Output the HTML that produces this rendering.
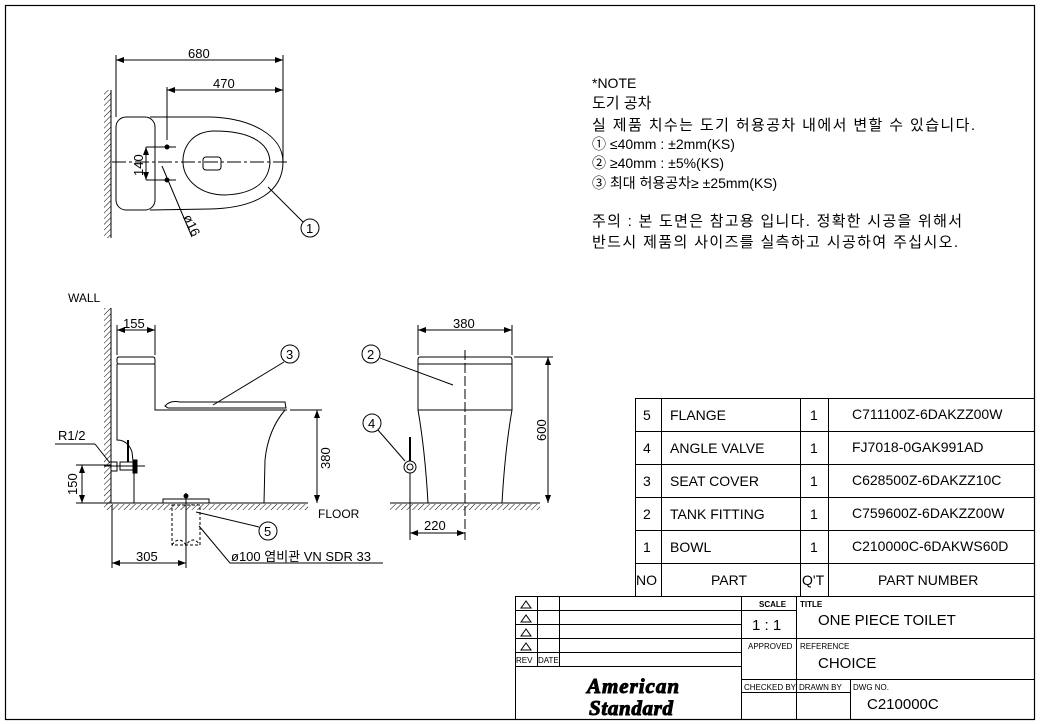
<!DOCTYPE html>
<html><head><meta charset="utf-8"><style>
html,body{margin:0;padding:0;background:#fff}
svg{display:block}
text{font-family:"Liberation Sans","Noto Sans CJK KR",sans-serif;fill:#000}
</style></head><body>
<svg width="1040" height="725" viewBox="0 0 1040 725" xmlns="http://www.w3.org/2000/svg">
<defs>
<pattern id="h" width="4" height="4" patternUnits="userSpaceOnUse" patternTransform="rotate(45)"><line x1="0" y1="0" x2="0" y2="4" stroke="#000" stroke-width="1"/></pattern>
<marker id="a" markerWidth="8" markerHeight="6" refX="8" refY="3" orient="auto-start-reverse" markerUnits="userSpaceOnUse"><path d="M0,0 L8,3 L0,6z" fill="#000"/></marker>
</defs>
<rect x="5.5" y="5.5" width="1029" height="714" fill="none" stroke="#000" stroke-width="1.2"/>
<g stroke="#000" fill="none" stroke-width="1">
<!-- TOP VIEW -->
<rect x="104" y="90" width="7" height="148" fill="url(#h)" stroke="none"/>
<line x1="111" y1="90" x2="111" y2="238"/>
<line x1="116" y1="55" x2="116" y2="117"/><line x1="283" y1="55" x2="283" y2="162"/>
<line x1="116" y1="60" x2="283" y2="60" marker-start="url(#a)" marker-end="url(#a)"/>
<line x1="167" y1="87" x2="167" y2="140"/>
<line x1="167" y1="90" x2="283" y2="90" marker-start="url(#a)" marker-end="url(#a)"/>
<rect x="116" y="117" width="39" height="93" rx="10"/>
<path d="M150,117 L210,117 C250,118 283,135 283,162 C283,192 255,208 210,209 L150,210"/>
<path d="M215,131 C190,131 182,150 183,163 C184,180 200,195 225,195 C250,194 268,185 270,163 C270,140 245,131 215,131z"/>
<rect x="203" y="157" width="18" height="13" rx="3"/>
<line x1="112" y1="162" x2="290" y2="162" stroke-dasharray="14,3,3,3"/>
<circle cx="167" cy="147" r="2" fill="#000"/><circle cx="167" cy="180" r="2" fill="#000"/>
<line x1="157" y1="147" x2="176" y2="147"/><line x1="157" y1="180" x2="176" y2="180"/>
<line x1="146" y1="147" x2="160" y2="147"/><line x1="146" y1="180" x2="160" y2="180"/>
<line x1="146" y1="147" x2="146" y2="180" marker-start="url(#a)" marker-end="url(#a)"/>
<line x1="162" y1="166" x2="192" y2="237"/>
<line x1="268" y1="187" x2="303" y2="222"/>
<circle cx="310" cy="228" r="9"/>
<!-- SIDE VIEW -->
<rect x="104" y="308" width="7" height="197" fill="url(#h)" stroke="none"/>
<line x1="111" y1="308" x2="111" y2="503"/>
<line x1="104" y1="503" x2="308" y2="503"/>
<rect x="104" y="504" width="204" height="6" fill="url(#h)" stroke="none"/>
<line x1="117" y1="325" x2="117" y2="355"/><line x1="155" y1="325" x2="155" y2="355"/>
<line x1="117" y1="330" x2="155" y2="330" marker-start="url(#a)" marker-end="url(#a)"/>
<path d="M119,357 L153,357 Q155,357 155,360 L155,363 Q155,364 153,364 L119,364 Q117,364 117,362 L117,359 Q117,357 119,357z"/>
<path d="M117,364 L117,440 Q128,440 132,452 L134,470 L134,503"/>
<path d="M155,364 L155,410 L287,410"/>
<path d="M165,406 Q170,400 180,402 L285,402 L286,408 L168,408z"/>
<path d="M285,410 Q268,430 265,460 L264,503"/>
<line x1="290" y1="410" x2="322" y2="410"/>
<line x1="317" y1="410" x2="317" y2="503" marker-start="url(#a)" marker-end="url(#a)"/>
<line x1="76" y1="465" x2="112" y2="465"/><line x1="76" y1="503" x2="104" y2="503"/>
<line x1="82" y1="465" x2="82" y2="503" marker-start="url(#a)" marker-end="url(#a)"/>
<rect x="111" y="462" width="6" height="9" fill="#fff"/>
<rect x="120" y="462" width="16" height="8"/>
<line x1="128" y1="440" x2="128" y2="462" stroke-width="2"/>
<line x1="104" y1="466" x2="145" y2="466"/>
<rect x="133" y="460" width="4" height="13" fill="#000"/>
<line x1="55" y1="444" x2="95" y2="444"/><line x1="95" y1="444" x2="110" y2="463"/>
<rect x="163" y="499" width="46" height="4"/>
<rect x="172" y="505" width="28" height="40" stroke-dasharray="3,2"/>
<path d="M172,545 Q179,535 186,545 Q193,535 200,545" stroke-dasharray="3,2"/>
<line x1="186" y1="493" x2="186" y2="568"/><circle cx="186" cy="496" r="2" fill="#000"/>
<line x1="112" y1="505" x2="112" y2="568"/>
<line x1="112" y1="563" x2="186" y2="563" marker-start="url(#a)" marker-end="url(#a)"/>
<line x1="196" y1="512" x2="259" y2="527"/>
<circle cx="268" cy="531" r="9"/>
<path d="M199,526 L230,563 L383,563"/>
<line x1="213" y1="405" x2="284" y2="362"/>
<circle cx="290" cy="354" r="9"/>
<!-- FRONT VIEW -->
<line x1="418" y1="325" x2="418" y2="355"/><line x1="512" y1="325" x2="512" y2="355"/>
<line x1="418" y1="330" x2="512" y2="330" marker-start="url(#a)" marker-end="url(#a)"/>
<path d="M420,357 L510,357 Q512,357 512,360 L512,410 L418,410 L418,360 Q418,357 420,357z"/>
<line x1="418" y1="364" x2="512" y2="364"/>
<path d="M418,410 Q425,450 428,503"/><path d="M512,410 Q505,450 502,503"/>
<line x1="465" y1="350" x2="465" y2="540" stroke-dasharray="10,3"/>
<line x1="390" y1="503" x2="540" y2="503"/>
<rect x="390" y="504" width="150" height="6" fill="url(#h)" stroke="none"/>
<line x1="514" y1="357" x2="553" y2="357"/>
<line x1="548" y1="357" x2="548" y2="503" marker-start="url(#a)" marker-end="url(#a)"/>
<circle cx="410" cy="467" r="6"/><circle cx="410" cy="467" r="3"/>
<line x1="410" y1="437" x2="410" y2="461" stroke-width="2"/>
<line x1="410" y1="473" x2="410" y2="540"/>
<line x1="410" y1="533" x2="465" y2="533" marker-start="url(#a)" marker-end="url(#a)"/>
<line x1="380" y1="358" x2="453" y2="385"/>
<circle cx="371" cy="354" r="9"/>
<line x1="378" y1="430" x2="405" y2="461"/>
<circle cx="372" cy="423" r="9"/>
<!-- PARTS TABLE -->
<rect x="635.5" y="398.5" width="399" height="198"/>
<line x1="635" y1="431.5" x2="1035" y2="431.5"/><line x1="635" y1="464.5" x2="1035" y2="464.5"/>
<line x1="635" y1="497.5" x2="1035" y2="497.5"/><line x1="635" y1="530.5" x2="1035" y2="530.5"/>
<line x1="635" y1="563.5" x2="1035" y2="563.5"/>
<line x1="661.5" y1="398" x2="661.5" y2="596"/><line x1="800.5" y1="398" x2="800.5" y2="596"/>
<line x1="828.5" y1="398" x2="828.5" y2="596"/>
<!-- TITLE BLOCK -->
<rect x="515.5" y="596.5" width="519" height="123"/>
<line x1="515" y1="610.5" x2="741" y2="610.5"/><line x1="515" y1="624.5" x2="741" y2="624.5"/>
<line x1="515" y1="638.5" x2="1035" y2="638.5"/><line x1="515" y1="652.5" x2="741" y2="652.5"/>
<line x1="515" y1="666.5" x2="741" y2="666.5"/>
<line x1="741" y1="610.5" x2="796" y2="610.5"/>
<line x1="741" y1="679.5" x2="1035" y2="679.5"/><line x1="741" y1="692.5" x2="850" y2="692.5"/>
<line x1="537.5" y1="596" x2="537.5" y2="666"/><line x1="559.5" y1="596" x2="559.5" y2="666"/>
<line x1="741.5" y1="596" x2="741.5" y2="720"/><line x1="796.5" y1="596" x2="796.5" y2="720"/>
<line x1="850.5" y1="679" x2="850.5" y2="720"/>
<path d="M521,608 L526,601 L531,608z M521,622 L526,615 L531,622z M521,636 L526,629 L531,636z M521,650 L526,643 L531,650z"/>
</g>
<g font-size="13">
<text x="188" y="58">680</text><text x="213" y="88">470</text>
<text x="143" y="176" transform="rotate(-90 143 176)">140</text>
<text x="183" y="217" transform="rotate(65 183 217)">ø16</text>
<text x="306" y="233">1</text>
<text x="68" y="302" font-size="12">WALL</text>
<text x="123" y="328">155</text>
<text x="286" y="359">3</text><text x="264" y="536">5</text>
<text x="330" y="469" transform="rotate(-90 330 469)" font-size="13">380</text>
<text x="77" y="495" transform="rotate(-90 77 495)">150</text>
<text x="58" y="440">R1/2</text>
<text x="318" y="518" font-size="12">FLOOR</text>
<text x="136" y="561">305</text>
<text x="231" y="561" font-size="13">ø100 염비관 VN SDR 33</text>
<text x="453" y="328">380</text>
<text x="367" y="359">2</text><text x="368" y="428">4</text>
<text x="546" y="441" transform="rotate(-90 546 441)">600</text>
<text x="424" y="530">220</text>
</g>
<g font-size="15">
<text x="592" y="88" font-size="14">*NOTE</text>
<text x="592" y="108">도기 공차</text>
<text x="592" y="130" textLength="383">실 제품 치수는 도기 허용공차 내에서 변할 수 있습니다.</text>
<text x="592" y="149" font-size="14">① ≤40mm : ±2mm(KS)</text>
<text x="592" y="168" font-size="14">② ≥40mm : ±5%(KS)</text>
<text x="592" y="188" font-size="14">③ 최대 허용공차≥ ±25mm(KS)</text>
<text x="592" y="226" textLength="370">주의 : 본 도면은 참고용 입니다. 정확한 시공을 위해서</text>
<text x="592" y="247" textLength="366">반드시 제품의 사이즈를 실측하고 시공하여 주십시오.</text>
</g>
<g font-size="14">
<text x="643" y="420">5</text><text x="670" y="420">FLANGE</text><text x="810" y="420">1</text><text x="852" y="419">C711100Z-6DAKZZ00W</text>
<text x="643" y="453">4</text><text x="670" y="453">ANGLE VALVE</text><text x="810" y="453">1</text><text x="852" y="452">FJ7018-0GAK991AD</text>
<text x="643" y="486">3</text><text x="670" y="486">SEAT COVER</text><text x="810" y="486">1</text><text x="852" y="485">C628500Z-6DAKZZ10C</text>
<text x="643" y="519">2</text><text x="670" y="519">TANK FITTING</text><text x="810" y="519">1</text><text x="852" y="518">C759600Z-6DAKZZ00W</text>
<text x="643" y="552">1</text><text x="670" y="552">BOWL</text><text x="810" y="552">1</text><text x="852" y="551">C210000C-6DAKWS60D</text>
<text x="636" y="585">NO</text><text x="711" y="585">PART</text><text x="802" y="585">Q'T</text><text x="878" y="585">PART NUMBER</text>
</g>
<g font-size="8" font-weight="bold">
<text x="759" y="607">SCALE</text><text x="800" y="607">TITLE</text>
<text x="748" y="649" font-weight="normal">APPROVED</text><text x="800" y="649" font-weight="normal">REFERENCE</text>
<text x="744" y="690" font-weight="normal">CHECKED BY</text><text x="799" y="690" font-weight="normal">DRAWN BY</text><text x="853" y="690" font-weight="normal">DWG NO.</text>
<text x="516" y="663" font-weight="normal">REV</text><text x="538" y="663" font-weight="normal">DATE</text>
</g>
<g font-size="15">
<text x="752" y="630">1 : 1</text>
<text x="818" y="625">ONE PIECE TOILET</text>
<text x="818" y="668">CHOICE</text>
<text x="867" y="709">C210000C</text>
</g>
<g font-style="italic" font-weight="bold" font-size="21" stroke="#000" stroke-width="1">
<text x="587" y="693" style="font-family:'Liberation Serif',serif" textLength="92">American</text>
<text x="589" y="715" style="font-family:'Liberation Serif',serif" textLength="84">Standard</text>
</g>
</svg>
</body></html>
